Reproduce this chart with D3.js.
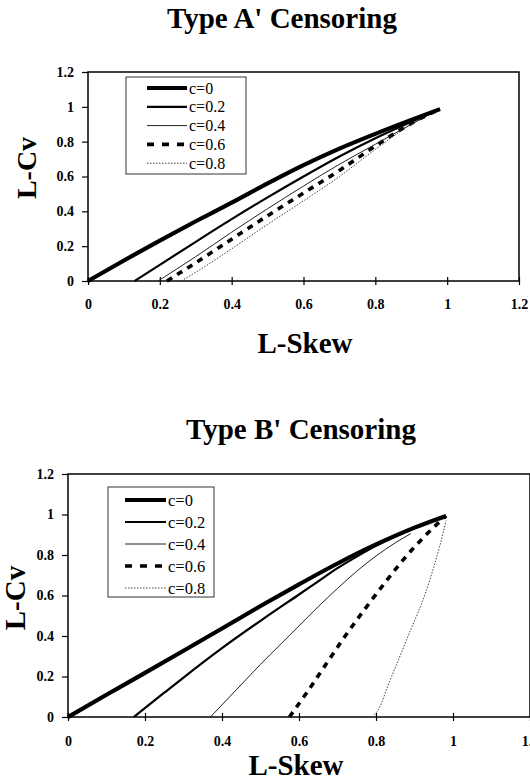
<!DOCTYPE html>
<html>
<head>
<meta charset="utf-8">
<script src="https://cdn.jsdelivr.net/npm/d3@7"></script>
<style>
  html, body { margin: 0; padding: 0; background: #fff; }
  svg { display: block; }
  text { font-family: "Liberation Serif", "Times New Roman", serif; fill: #000; }
</style>
</head>
<body>
<svg id="chart" width="530" height="781"></svg>
<script>
// ---------- data ----------
const skewTicks = [0, 0.2, 0.4, 0.6, 0.8, 1, 1.2];
const cvTicks = [0, 0.2, 0.4, 0.6, 0.8, 1, 1.2];
const tickLabels = ["0", "0.2", "0.4", "0.6", "0.8", "1", "1.2"];
const seriesNames = ["c=0", "c=0.2", "c=0.4", "c=0.6", "c=0.8"];

// Type A' censoring (L-Skew, L-Cv)
const aC0x  = [0, 0.1, 0.2, 0.3, 0.4, 0.5, 0.6, 0.7, 0.8, 0.9, 0.98];
const aC0y  = [0, 0.118, 0.232, 0.343, 0.45, 0.56, 0.665, 0.76, 0.845, 0.925, 0.987];
const aC02x = [0.13, 0.2, 0.3, 0.4, 0.5, 0.6, 0.7, 0.8, 0.9, 0.98];
const aC02y = [0, 0.093, 0.225, 0.355, 0.48, 0.6, 0.715, 0.82, 0.915, 0.987];
const aC04x = [0.195, 0.3, 0.4, 0.5, 0.6, 0.7, 0.8, 0.9, 0.98];
const aC04y = [0, 0.14, 0.28, 0.415, 0.545, 0.67, 0.785, 0.9, 0.987];
const aC06x = [0.22, 0.3, 0.4, 0.5, 0.6, 0.7, 0.8, 0.9, 0.98];
const aC06y = [0, 0.105, 0.24, 0.375, 0.505, 0.635, 0.775, 0.905, 0.987];
const aC08x = [0.26, 0.3, 0.4, 0.5, 0.6, 0.7, 0.8, 0.9, 0.98];
const aC08y = [0, 0.05, 0.185, 0.325, 0.46, 0.6, 0.755, 0.9, 0.987];

// Type B' censoring (L-Skew, L-Cv)
const bC0x  = [0, 0.1, 0.2, 0.3, 0.4, 0.5, 0.6, 0.7, 0.8, 0.9, 0.982];
const bC0y  = [0, 0.11, 0.218, 0.327, 0.437, 0.548, 0.655, 0.758, 0.852, 0.935, 0.993];
const bC02x = [0.171, 0.25, 0.3, 0.4, 0.5, 0.6, 0.65, 0.7, 0.75, 0.8, 0.9, 0.982];
const bC02y = [0, 0.12, 0.195, 0.34, 0.475, 0.605, 0.67, 0.735, 0.792, 0.845, 0.932, 0.993];
const bC04x = [0.37, 0.45, 0.5, 0.55, 0.6, 0.65, 0.7, 0.75, 0.8, 0.85, 0.89];
const bC04y = [0, 0.16, 0.26, 0.355, 0.45, 0.545, 0.635, 0.72, 0.795, 0.86, 0.905];
const bC06x = [0.575, 0.62, 0.67, 0.72, 0.77, 0.82, 0.87, 0.92, 0.96, 0.982];
const bC06y = [0, 0.12, 0.26, 0.4, 0.53, 0.655, 0.775, 0.88, 0.955, 0.993];
const bC08x = [0.79, 0.81, 0.83, 0.86, 0.89, 0.91, 0.93, 0.95, 0.965, 0.982];
const bC08y = [0, 0.05, 0.15, 0.29, 0.43, 0.52, 0.62, 0.74, 0.84, 0.97];

// ---------- styles ----------
const styles = [
  { w: 4.2, dash: null, color: "#000" },
  { w: 2.2, dash: null, color: "#000" },
  { w: 1.0, dash: null, color: "#222" },
  { w: 3.6, dash: "6,6", color: "#000" },
  { w: 1.0, dash: "1.5,1.5", color: "#444" }
];

const svg = d3.select("#chart");
const zip = (xs, ys) => xs.map((x, i) => [x, ys[i]]);

function drawChart(cfg) {
  const x = d3.scaleLinear().domain([0, 1.2]).range([cfg.left, cfg.right]);
  const y = d3.scaleLinear().domain([0, 1.2]).range([cfg.bottom, cfg.top]);
  const g = svg.append("g");

  // title
  g.append("text").attr("x", cfg.titleX).attr("y", cfg.titleY)
    .attr("text-anchor", "middle").attr("font-size", 29).attr("font-weight", "bold")
    .text(cfg.title);

  // frame
  g.append("rect").attr("x", cfg.left).attr("y", cfg.top)
    .attr("width", cfg.right - cfg.left).attr("height", cfg.bottom - cfg.top)
    .attr("fill", "none").attr("stroke", "#000").attr("stroke-width", 1.5);

  // y axis
  const ya = g.append("g").attr("transform", `translate(${cfg.left},0)`)
    .call(d3.axisLeft(y).tickValues(cvTicks).tickSize(6).tickPadding(8)
      .tickFormat((d, i) => tickLabels[i]));
  ya.select(".domain").remove();
  ya.selectAll("line").attr("stroke", "#000").attr("stroke-width", 1.2);
  ya.selectAll("text").attr("font-size", 14).attr("font-weight", "bold");

  // x axis
  const xa = g.append("g").attr("transform", `translate(0,${cfg.bottom})`)
    .call(d3.axisBottom(x).tickValues(skewTicks).tickSize(4).tickPadding(cfg.xPad)
      .tickFormat((d, i) => tickLabels[i]));
  xa.select(".domain").remove();
  xa.selectAll("line").attr("y1", -4).attr("y2", 4).attr("stroke", "#000").attr("stroke-width", 1.2);
  xa.selectAll("text").attr("font-size", 14).attr("font-weight", "bold");

  // axis titles
  g.append("text").attr("x", cfg.xLabelX).attr("y", cfg.xLabelY)
    .attr("text-anchor", "middle").attr("font-size", 29).attr("font-weight", "bold")
    .text("L-Skew");
  g.append("text")
    .attr("transform", `translate(${cfg.yLabelX},${cfg.yLabelY}) rotate(-90)`)
    .attr("text-anchor", "middle").attr("font-size", cfg.yLabelSize).attr("font-weight", "bold")
    .text("L-Cv");

  // curves
  const line = d3.line().x(d => x(d[0])).y(d => y(d[1])).curve(d3.curveMonotoneX);
  const order = [4, 3, 2, 1, 0];
  order.forEach(i => {
    const s = styles[i];
    g.append("path").datum(cfg.series[i])
      .attr("d", line).attr("fill", "none")
      .attr("stroke", s.color).attr("stroke-width", s.w)
      .attr("stroke-dasharray", s.dash).attr("stroke-linecap", "butt")
      .attr("stroke-linejoin", "round");
  });

  // legend
  const L = cfg.legend;
  const lg = g.append("g");
  lg.append("rect").attr("x", L.x).attr("y", L.y).attr("width", L.w).attr("height", L.h)
    .attr("fill", "#fff").attr("stroke", "#333").attr("stroke-width", 1);
  seriesNames.forEach((name, i) => {
    const s = styles[i];
    const yy = L.y + L.first + i * L.step;
    lg.append("line").attr("x1", L.lx1).attr("x2", L.lx2).attr("y1", yy).attr("y2", yy)
      .attr("stroke", s.color).attr("stroke-width", s.w)
      .attr("stroke-dasharray", i === 3 ? "7,8" : s.dash);
    lg.append("text").attr("x", L.tx).attr("y", yy).attr("dy", "0.35em")
      .attr("font-size", L.fs).text(name);
  });
}

drawChart({
  title: "Type A' Censoring", titleX: 282, titleY: 28,
  left: 88, right: 519, top: 72, bottom: 281, xPad: 14,
  xLabelX: 305, xLabelY: 353,
  yLabelX: 36, yLabelY: 168, yLabelSize: 28,
  series: [zip(aC0x, aC0y), zip(aC02x, aC02y), zip(aC04x, aC04y), zip(aC06x, aC06y), zip(aC08x, aC08y)],
  legend: { x: 126, y: 77, w: 120, h: 97, first: 11, step: 18.8, lx1: 147, lx2: 187, tx: 189, fs: 16 }
});

drawChart({
  title: "Type B' Censoring", titleX: 301, titleY: 439,
  left: 68, right: 530, top: 474, bottom: 717, xPad: 15,
  xLabelX: 296, xLabelY: 775,
  yLabelX: 25, yLabelY: 598, yLabelSize: 29,
  series: [zip(bC0x, bC0y), zip(bC02x, bC02y), zip(bC04x, bC04y), zip(bC06x, bC06y), zip(bC08x, bC08y)],
  legend: { x: 108, y: 487, w: 106, h: 110, first: 13, step: 22, lx1: 125, lx2: 166, tx: 168, fs: 16.5 }
});
</script>
</body>
</html>
